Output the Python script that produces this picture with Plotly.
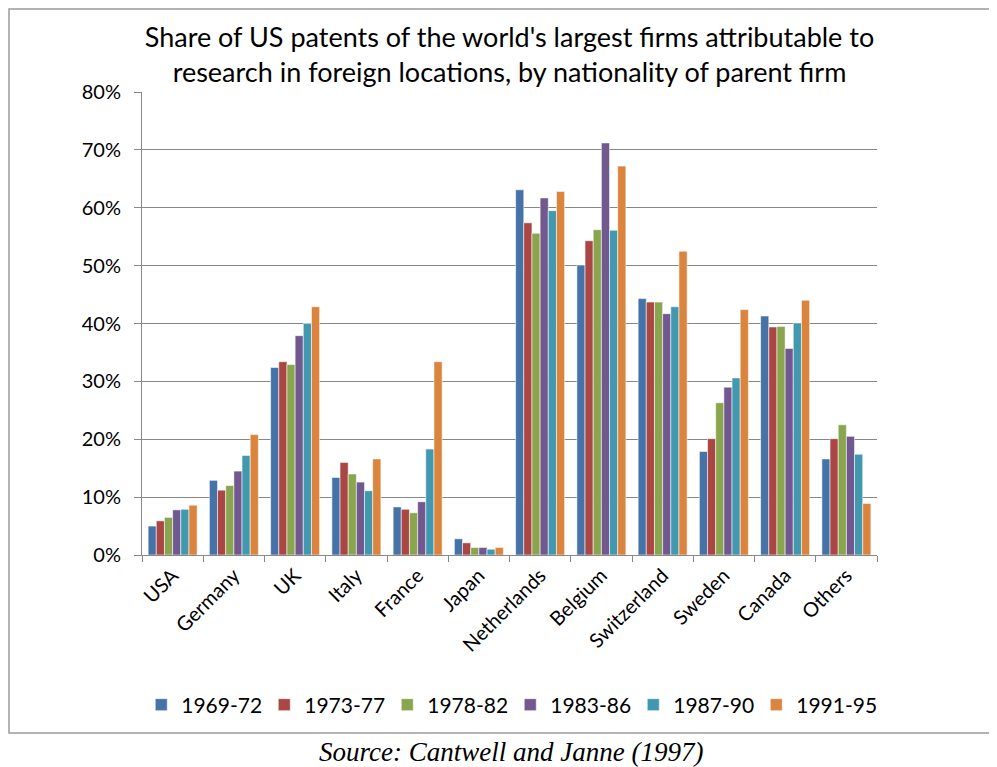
import plotly.graph_objects as go

countries = ["USA", "Germany", "UK", "Italy", "France", "Japan", "Netherlands",
             "Belgium", "Switzerland", "Sweden", "Canada", "Others"]
periods = ["1969-72", "1973-77", "1978-82", "1983-86", "1987-90", "1991-95"]

s1969_72 = [5.0, 12.9, 32.4, 13.4, 8.3, 2.8, 63.1, 50.1, 44.3, 17.9, 41.3, 16.6]
s1973_77 = [5.9, 11.2, 33.4, 16.0, 7.9, 2.1, 57.4, 54.3, 43.7, 20.1, 39.4, 20.1]
s1978_82 = [6.5, 12.0, 32.9, 14.0, 7.3, 1.3, 55.6, 56.2, 43.7, 26.3, 39.5, 22.5]
s1983_86 = [7.8, 14.5, 37.9, 12.6, 9.2, 1.3, 61.7, 71.2, 41.7, 29.0, 35.7, 20.5]
s1987_90 = [7.9, 17.2, 40.0, 11.1, 18.3, 1.0, 59.5, 56.1, 42.9, 30.6, 40.1, 17.4]
s1991_95 = [8.6, 20.8, 42.9, 16.6, 33.4, 1.3, 62.8, 67.2, 52.5, 42.4, 44.0, 8.9]

series = [s1969_72, s1973_77, s1978_82, s1983_86, s1987_90, s1991_95]
colors = ["#4572A7", "#AA4643", "#89A54E", "#71588F", "#4198AF", "#DB843D"]

FONT = "Lato, Liberation Sans, Arial, sans-serif"

fig = go.Figure()
for name, vals, col in zip(periods, series, colors):
    fig.add_trace(go.Bar(
        x=countries, y=vals, name=name,
        marker=dict(color=col, line=dict(color="rgba(255,255,255,0.55)", width=1)),
    ))

# page body has an 8px margin: work in page pixels and shift
OFF = 8
W, H = 997 - OFF, 767 - OFF
PL, PR, PT, PB = 142, 877, 92, 555  # plot area in page pixels
L, T = PL - OFF, PT - OFF
R = W - (PR - OFF)
B = H - (PB - OFF)
pw, ph = PR - PL, PB - PT

def px_x(x):
    return (x - PL) / pw

def px_y(y):
    return (PB - y) / ph

fig.update_layout(
    width=W, height=H,
    margin=dict(l=L, r=R, t=T, b=B),
    paper_bgcolor="white", plot_bgcolor="white",
    barmode="group", bargap=0.2, bargroupgap=0,
    font=dict(family=FONT, size=20, color="#000000"),
    title=dict(
        text="Share of US patents of the world's largest firms attributable to<br>research in foreign locations, by nationality of parent firm",
        x=0.5, xref="paper", xanchor="center",
        y=1 - (47 - OFF) / H, yref="container", yanchor="top",
        font=dict(family=FONT, size=27, color="#000000"),
    ),
    xaxis=dict(
        type="category", tickangle=-45, tickson="boundaries",
        ticks="outside", ticklen=6, tickcolor="#888888",
        showline=True, linecolor="#888888", linewidth=1,
        showgrid=False, tickfont=dict(family=FONT, size=20),
    ),
    yaxis=dict(
        range=[0, 80], dtick=10, ticksuffix="%",
        ticks="outside", ticklen=7, tickcolor="#888888",
        showline=True, linecolor="#888888", linewidth=1,
        showgrid=True, gridcolor="#878787", gridwidth=1.2,
        zeroline=False, tickfont=dict(family=FONT, size=20),
        ticklabelstandoff=9,
    ),
    legend=dict(
        orientation="h", x=-0.001, xanchor="left",
        y=px_y(705), yanchor="middle",
        entrywidth=78, entrywidthmode="pixels",
        font=dict(family=FONT, size=21),
        traceorder="normal",
    ),
    shapes=[dict(
        type="rect", xref="paper", yref="paper",
        x0=px_x(9), x1=px_x(991), y0=px_y(733), y1=px_y(9),
        line=dict(color="#9a9a9a", width=1.5), fillcolor="rgba(0,0,0,0)",
        layer="below",
    )],
    annotations=[dict(
        text="<i>Source: Cantwell and Janne (1997)</i>",
        xref="paper", yref="paper", x=px_x(511), y=px_y(752),
        xanchor="center", yanchor="middle", showarrow=False,
        font=dict(family="Liberation Serif, Times New Roman, serif", size=27, color="#000000"),
    )],
)

fig.write_html("out.html")
